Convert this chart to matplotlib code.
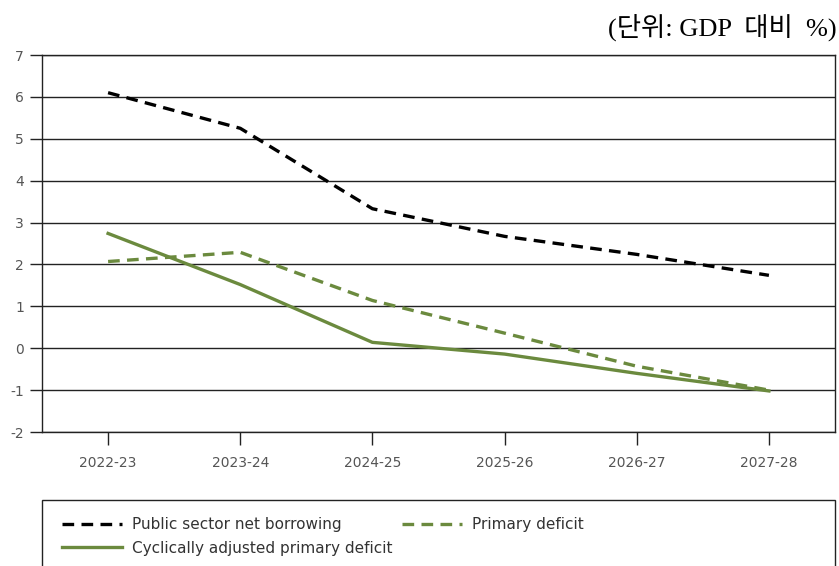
import matplotlib.pyplot as plt
from matplotlib.patches import Rectangle

# Values
years = ["2022-23", "2023-24", "2024-25", "2025-26", "2026-27", "2027-28"]
psnb = [6.1, 5.25, 3.33, 2.67, 2.24, 1.74]
primary = [2.07, 2.29, 1.14, 0.36, -0.43, -1.0]
cyc_adj = [2.74, 1.52, 0.14, -0.14, -0.6, -1.02]
y_ticks = [-2, -1, 0, 1, 2, 3, 4, 5, 6, 7]

green = "#6b8a3e"
tick_color = "#555555"

fig = plt.figure(figsize=(8.39, 5.66), dpi=100)
ax = fig.add_axes([42 / 839, 1 - 432 / 566, (835 - 42) / 839, (432 - 55) / 566])

x = range(len(years))
l1, = ax.plot(x, psnb, color="black", lw=2.4, dashes=(3.5, 2.2),
              label="Public sector net borrowing")
l2, = ax.plot(x, primary, color=green, lw=2.4, dashes=(3.5, 2.2),
              label="Primary deficit")
l3, = ax.plot(x, cyc_adj, color=green, lw=2.4,
              label="Cyclically adjusted primary deficit")

ax.set_xlim(-0.5, 5.5)
ax.set_ylim(-2, 7)
ax.set_yticks(y_ticks)
ax.set_yticklabels([str(v) for v in y_ticks])
ax.set_xticks(list(x))
ax.set_xticklabels(years)
ax.grid(axis="y", color="#222222", lw=1.0)
ax.set_axisbelow(True)
for s in ax.spines.values():
    s.set_color("#222222")
    s.set_linewidth(1.0)
ax.tick_params(axis="y", length=9, width=1, color="#222222",
               labelsize=10, labelcolor=tick_color, pad=4)
ax.tick_params(axis="x", length=9, width=1, color="#222222",
               labelsize=10, labelcolor=tick_color, pad=8)

fig.text(0.997, 1 - 27 / 566, "(단위: GDP  대비  %)", ha="right", va="center",
         fontsize=19, family=["Liberation Serif", "Noto Sans CJK KR"])

# legend box, bottom edge runs off the image
fig.patches.append(Rectangle((42 / 839, -0.05), (835 - 42) / 839, 0.05 + 66 / 566,
                             transform=fig.transFigure, fill=False,
                             edgecolor="#222222", lw=1.0))
fig.legend(handles=[l1, l3, l2], ncol=2, frameon=False,
           loc="upper left", bbox_to_anchor=(56 / 839, 1 - 511 / 566),
           fontsize=11, handlelength=3.9, handletextpad=0.7, columnspacing=0.6,
           labelspacing=0.55, borderaxespad=0, labelcolor="#333333")

fig.savefig("out.png", dpi=100)
